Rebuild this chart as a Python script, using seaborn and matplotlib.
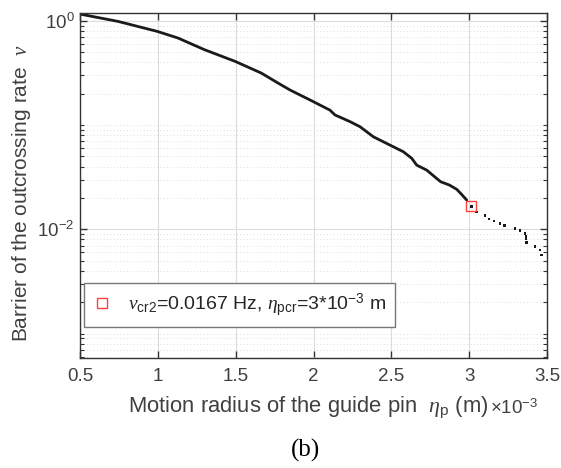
import numpy as np
import pandas as pd
import matplotlib
matplotlib.use("Agg")
import matplotlib.pyplot as plt
import seaborn as sns
from matplotlib.ticker import FixedLocator, NullFormatter, LogFormatterSciNotation
from matplotlib.lines import Line2D

# ---- data (x in units of 1e-3 m) ----
x_main = [0.50, 0.744, 0.997, 1.13, 1.30, 1.497, 1.665, 1.772, 1.849, 1.978, 2.106, 2.138,
          2.234, 2.299, 2.384, 2.491, 2.577, 2.631, 2.663, 2.727, 2.791, 2.817, 2.873,
          2.920, 2.952, 2.984]
y_main = [1.16, 0.987, 0.791, 0.683, 0.528, 0.408, 0.315, 0.253, 0.217, 0.174, 0.139, 0.125,
          0.108, 0.0964, 0.0773, 0.0643, 0.0555, 0.048, 0.0413, 0.037, 0.0308, 0.0286, 0.0266,
          0.0242, 0.0216, 0.0191]
x_tail = [3.016, 3.048, 3.101, 3.127, 3.160, 3.198, 3.226, 3.295, 3.327, 3.359, 3.365,
          3.365, 3.370, 3.423, 3.455, 3.466]
y_tail = [0.0165, 0.0147, 0.0136, 0.01256, 0.0120, 0.0114, 0.0108, 0.0102, 0.0097, 0.00916,
          0.00863, 0.0082, 0.00744, 0.00687, 0.00633, 0.00567]
x_cr = [3.012]
y_cr = [0.0167]
legend_label = r"$\nu_{\mathrm{cr2}}$=0.0167 Hz, $\eta_{\mathrm{pcr}}$=3*10$^{-3}$ m"
xticks = [0.5, 1, 1.5, 2, 2.5, 3, 3.5]

sns.set_theme(style="ticks")
plt.rcParams['font.family'] = ['Liberation Sans', 'DejaVu Sans']
plt.rcParams['mathtext.fontset'] = 'custom'
plt.rcParams['mathtext.rm'] = 'Liberation Sans'
plt.rcParams['mathtext.it'] = 'Liberation Serif:italic'
plt.rcParams['mathtext.bf'] = 'Liberation Sans:bold'

axc = '#333333'
txc = '#404040'
fig = plt.figure(figsize=(5.61, 4.68), dpi=100)
ax = fig.add_axes([80/561, 1-358.3/468, (547-80)/561, (358.3-13.3)/468])

df_main = pd.DataFrame({'x': x_main, 'y': y_main})
df_tail = pd.DataFrame({'x': x_tail, 'y': y_tail})
sns.lineplot(data=df_main, x='x', y='y', ax=ax, color='#1a1a1a', lw=2.0, sort=False)
sns.scatterplot(data=df_tail, x='x', y='y', ax=ax, color='#1a1a1a', s=4, marker='s',
                edgecolor='none')
ax.plot(x_cr, y_cr, 's', ms=7, mfc='none', mec='#ff4040', mew=1.0)

ax.set_yscale('log')
ax.set_xlim(0.5, 3.5)
ax.set_ylim(5.8e-4, 1.18)
ax.xaxis.set_major_locator(FixedLocator(xticks))
ax.set_xticklabels([f"{t:g}" for t in xticks])
ax.yaxis.set_major_locator(FixedLocator([1e-2, 1e0]))
ax.yaxis.set_major_formatter(LogFormatterSciNotation())
minors = [m * 10.0**e for e in range(-4, 1) for m in range(1, 10)]
minors = [v for v in minors if v not in (1e-2, 1e0)]
ax.yaxis.set_minor_locator(FixedLocator(minors))
ax.yaxis.set_minor_formatter(NullFormatter())
ax.xaxis.set_minor_locator(FixedLocator([]))

ax.grid(True, which='major', color='#dcdcdc', lw=0.8, ls='-')
ax.grid(True, which='minor', axis='y', color='#d2d2d2', lw=0.6, ls=(0, (1, 3)))
ax.set_axisbelow(True)

for s in ax.spines.values():
    s.set_color(axc)
    s.set_linewidth(1.0)
    s.set_visible(True)
ax.tick_params(which='major', direction='in', length=5, width=1.0, color=axc,
               top=True, right=True, labelsize=13.5, labelcolor=txc, pad=7)
ax.tick_params(which='minor', direction='in', length=3, width=0.8, color=axc,
               top=False, right=True, left=True)
ax.tick_params(axis='y', which='major', pad=4)

ax.set_xlabel(r"Motion radius of the guide pin  $\eta_{\mathrm{p}}$ (m)", fontsize=15.8,
              color=txc)
ax.xaxis.set_label_coords((308-80)/467, -0.105)
ax.set_ylabel(r"Barrier of the outcrossing rate  $\nu$", fontsize=15, color=txc)
ax.yaxis.set_label_coords(-0.10, 0.48)
fig.text(490/561, 1-414/468, r"$\times$10$^{-3}$", fontsize=13.5, color=txc,
         ha='left', va='baseline')
fig.text(305/561, 1-457/468, "(b)", fontsize=18, family='Liberation Serif', color='black',
         ha='center', va='baseline')

h = Line2D([], [], ls='none', marker='s', ms=7, mfc='none', mec='#ff4040', mew=1.0)
leg = ax.legend([h], [legend_label], loc='lower left',
                bbox_to_anchor=(4/467, (358.3-327.3)/345), borderaxespad=0,
                fontsize=14, frameon=True, fancybox=False, handlelength=1.0,
                handletextpad=0.8, borderpad=0.45)
leg.get_frame().set_edgecolor('#777777')
leg.get_frame().set_linewidth(1.0)
leg.get_frame().set_alpha(1)

fig.savefig('out.png', dpi=100)
